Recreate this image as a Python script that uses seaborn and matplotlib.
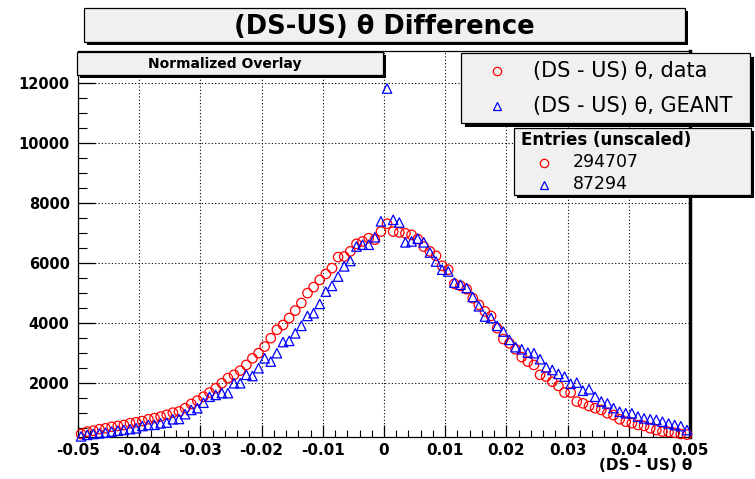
import numpy as np
import pandas as pd
import matplotlib
matplotlib.use('Agg')
import matplotlib.pyplot as plt
from matplotlib.patches import Rectangle
from matplotlib.ticker import MultipleLocator, FixedLocator, FuncFormatter
import seaborn as sns

# histogram definition: 100 bins between -0.05 and 0.05
n_bins = 100
theta_lo, theta_hi = -0.05, 0.05

# normalized bin contents, data (red circles)
data_counts = [
    300, 380, 410, 460, 490, 540, 570, 600, 660, 690,
    730, 790, 830, 880, 940, 1010, 1050, 1160, 1300, 1410,
    1540, 1680, 1820, 1990, 2160, 2270, 2410, 2600, 2820, 2990,
    3210, 3490, 3770, 3930, 4160, 4410, 4660, 4990, 5190, 5430,
    5630, 5820, 6190, 6210, 6380, 6630, 6710, 6820, 6770, 7040,
    7300, 7040, 7010, 6980, 6930, 6790, 6540, 6380, 6230, 5900,
    5770, 5300, 5230, 5120, 4820, 4600, 4380, 4230, 3820, 3460,
    3320, 3120, 2860, 2710, 2600, 2270, 2210, 2040, 1900, 1680,
    1680, 1380, 1320, 1230, 1160, 1100, 990, 930, 790, 710,
    660, 600, 570, 490, 430, 380, 370, 340, 300, 280,
]

# normalized bin contents, GEANT (blue triangles)
geant_counts = [
    220, 270, 300, 320, 345, 380, 410, 435, 460, 490,
    565, 600, 605, 655, 680, 790, 800, 960, 1100, 1160,
    1340, 1540, 1600, 1660, 1660, 1990, 1990, 2270, 2230, 2490,
    2820, 2710, 2990, 3360, 3400, 3650, 3900, 4230, 4320, 4630,
    5040, 5230, 5540, 5880, 6060, 6540, 6600, 6600, 6850, 7380,
    11800, 7430, 7340, 6680, 6710, 6800, 6680, 6340, 6040, 5770,
    5710, 5340, 5270, 5160, 4860, 4550, 4210, 4160, 3900, 3710,
    3430, 3190, 3120, 3010, 2990, 2790, 2520, 2430, 2300, 2210,
    1970, 2010, 1740, 1790, 1540, 1380, 1320, 1160, 1040, 990,
    990, 880, 820, 790, 770, 710, 650, 600, 560, 430,
]

series_labels = ['(DS - US) \u03b8, data', '(DS - US) \u03b8, GEANT']
entries_unscaled = ['294707', '87294']

edges = np.linspace(theta_lo, theta_hi, n_bins + 1)
centers = 0.5 * (edges[:-1] + edges[1:])
df = pd.DataFrame({'theta': centers, 'data': data_counts, 'geant': geant_counts})

W, H = 755, 479
plt.rcParams['font.family'] = ['DejaVu Sans']
fig = plt.figure(figsize=(W / 100, H / 100), dpi=100)
fig.patch.set_facecolor('white')

def px_rect(x0, y0, x1, y1):
    return [x0 / W, 1 - y1 / H, (x1 - x0) / W, (y1 - y0) / H]

ax = fig.add_axes(px_rect(78, 51, 690, 437))

sns.scatterplot(data=df, x='theta', y='data', ax=ax, marker='o', s=46,
                color='red', facecolor='none', edgecolor='red', linewidth=0.9,
                clip_on=False, zorder=3)
sns.scatterplot(data=df, x='theta', y='geant', ax=ax, marker='^', s=46,
                color='blue', facecolor='none', edgecolor='blue', linewidth=0.9,
                clip_on=False, zorder=4)

ax.set_xlim(theta_lo, theta_hi)
ax.set_ylim(200, 13050)
ax.set_xlabel('')
ax.set_ylabel('')

ax.xaxis.set_major_locator(MultipleLocator(0.01))
ax.xaxis.set_minor_locator(MultipleLocator(0.002))
ax.yaxis.set_major_locator(FixedLocator([2000, 4000, 6000, 8000, 10000, 12000]))
ax.yaxis.set_minor_locator(MultipleLocator(500))

def fmt_x(v, pos):
    v = round(v, 3)
    return '0' if v == 0 else f'{v:g}'

ax.xaxis.set_major_formatter(FuncFormatter(fmt_x))
ax.tick_params(axis='both', which='both', direction='in', colors='black',
               top=False, right=False)
ax.tick_params(axis='x', which='major', length=9, width=0.9, labelsize=11, pad=4)
ax.tick_params(axis='x', which='minor', length=5, width=0.8)
ax.tick_params(axis='y', which='major', length=12, width=0.9, labelsize=10.5, pad=6)
ax.tick_params(axis='y', which='minor', length=6.5, width=0.8)
for lab in ax.get_xticklabels() + ax.get_yticklabels():
    lab.set_fontweight('bold')

ax.grid(True, which='major', color='black', linestyle=(0, (1, 2)), linewidth=0.8)
ax.set_axisbelow(True)
for side in ['left', 'bottom', 'top']:
    ax.spines[side].set_linewidth(0.9)
ax.spines['right'].set_linewidth(2.5)

# overlay in pixel coordinates for the ROOT style boxes
ov = fig.add_axes([0, 0, 1, 1], zorder=10)
ov.set_xlim(0, W)
ov.set_ylim(H, 0)
ov.axis('off')

def shadow_box(x0, y0, x1, y1, off=3):
    ov.add_patch(Rectangle((x0 + off, y0 + off), x1 - x0, y1 - y0,
                           facecolor='black', edgecolor='black', lw=0))
    ov.add_patch(Rectangle((x0, y0), x1 - x0, y1 - y0,
                           facecolor='#f0f0f0', edgecolor='black', lw=0.9))

# title
shadow_box(84, 8, 685, 42)
ov.text(384, 27, '(DS-US) \u03b8 Difference', ha='center', va='center',
        fontsize=18.5, fontweight='bold')

# subtitle box
shadow_box(77, 52, 383, 75)
ov.text(225, 64, 'Normalized Overlay', ha='center', va='center',
        fontsize=10, fontweight='bold')

# legend
shadow_box(461, 53, 750, 123, off=4)
ov.plot(497, 71, marker='o', ms=6, mfc='none', mec='red', mew=0.9)
ov.plot(497, 106, marker='^', ms=6, mfc='none', mec='blue', mew=0.9)
ov.text(533, 71, series_labels[0], ha='left', va='center', fontsize=15)
ov.text(533, 106, series_labels[1], ha='left', va='center', fontsize=15)

# entries box
shadow_box(514, 128, 751, 195)
ov.text(521, 140, 'Entries (unscaled)', ha='left', va='center',
        fontsize=12, fontweight='bold')
ov.plot(544, 163, marker='o', ms=6, mfc='none', mec='red', mew=0.9)
ov.plot(544, 185, marker='^', ms=6, mfc='none', mec='blue', mew=0.9)
ov.text(573, 162, entries_unscaled[0], ha='left', va='center', fontsize=12.5)
ov.text(573, 184, entries_unscaled[1], ha='left', va='center', fontsize=12.5)

# x axis title
ov.text(692, 466, '(DS - US) \u03b8', ha='right', va='center',
        fontsize=11, fontweight='bold')

fig.savefig('out.png', dpi=100)
